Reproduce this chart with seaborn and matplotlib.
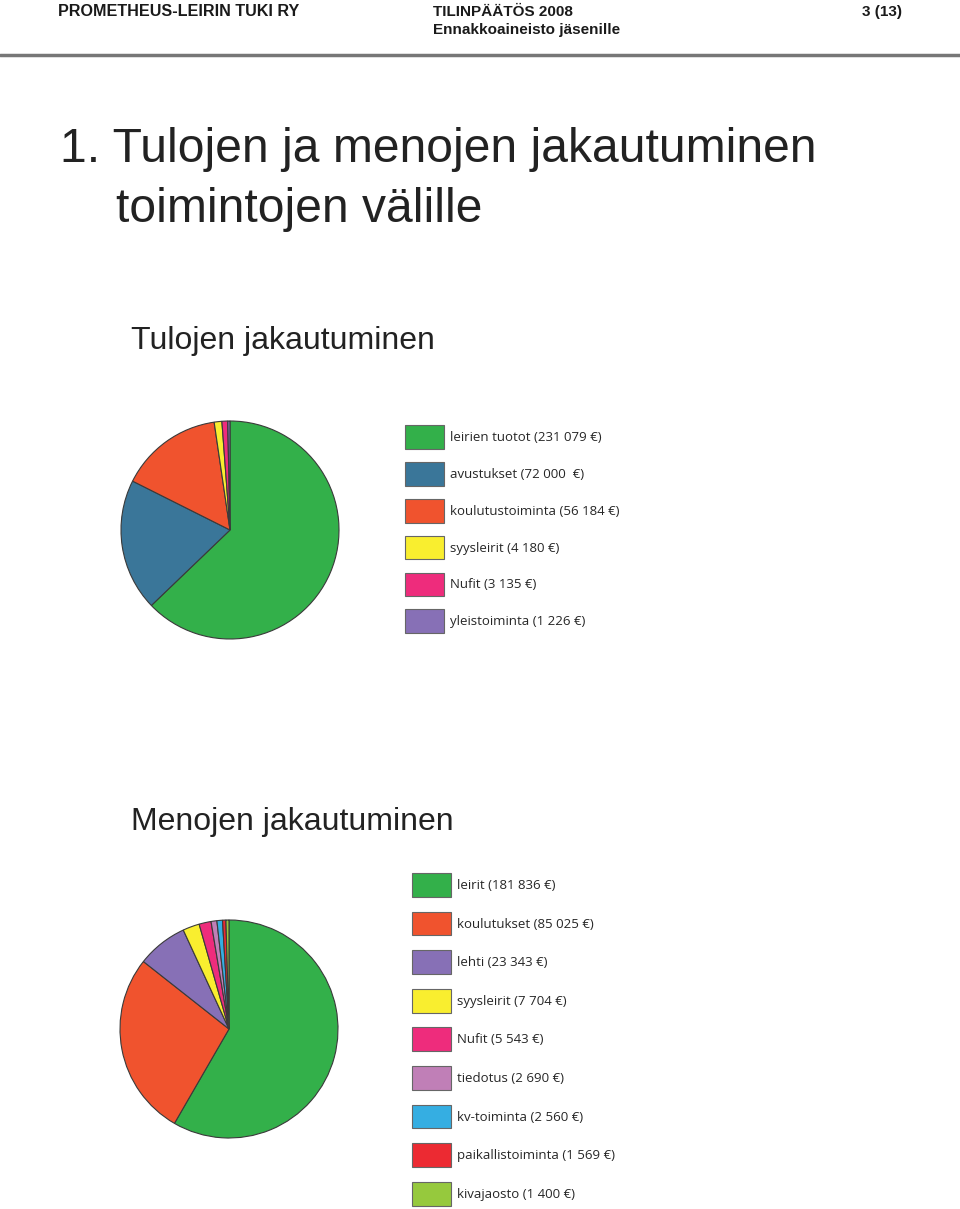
import matplotlib
matplotlib.use("Agg")
import matplotlib.pyplot as plt
import seaborn as sns
from matplotlib.patches import Patch

# income (Tulojen jakautuminen)
tulot_labels = ["leirien tuotot", "avustukset", "koulutustoiminta", "syysleirit", "Nufit", "yleistoiminta"]
tulot_values = [231079, 72000, 56184, 4180, 3135, 1226]
tulot_text = ["231 079 €", "72 000  €", "56 184 €", "4 180 €", "3 135 €", "1 226 €"]
tulot_colors = ["#33b04a", "#3a7699", "#f0532e", "#f9ee2f", "#ee2c7c", "#8770b6"]

# expenses (Menojen jakautuminen)
menot_labels = ["leirit", "koulutukset", "lehti", "syysleirit", "Nufit", "tiedotus",
                "kv-toiminta", "paikallistoiminta", "kivajaosto"]
menot_values = [181836, 85025, 23343, 7704, 5543, 2690, 2560, 1569, 1400]
menot_text = ["181 836 €", "85 025 €", "23 343 €", "7 704 €", "5 543 €", "2 690 €",
              "2 560 €", "1 569 €", "1 400 €"]
menot_colors = ["#33b04a", "#f0532e", "#8770b6", "#f9ee2f", "#ee2c7c", "#c07fb7",
                "#35aee2", "#ec2a32", "#96c93d"]

sns.set_theme(style="white")
plt.rcParams["font.family"] = ["Liberation Sans", "DejaVu Sans"]

W, H = 960, 1209
fig = plt.figure(figsize=(W / 100, H / 100), dpi=100)


def fx(x):
    return x / W


def fy(y):
    return 1 - y / H


def px_axes(left, top, w, h):
    return fig.add_axes([left / W, 1 - (top + h) / H, w / W, h / H])


# page header
hdr = dict(fontsize=11, fontweight="bold", color="#1a1a1a", va="center")
fig.text(fx(58), fy(12), "PROMETHEUS-LEIRIN TUKI RY", ha="left", **{**hdr, "fontsize": 11.6})
fig.text(fx(433), fy(12), "TILINPÄÄTÖS 2008", ha="left", **hdr)
fig.text(fx(433), fy(30), "Ennakkoaineisto jäsenille", ha="left", **hdr)
fig.text(fx(902), fy(12), "3 (13)", ha="right", **hdr)
fig.add_artist(plt.Line2D([0, 1], [fy(55), fy(55)], color="#777777", lw=2.5))

# titles
fig.text(fx(60), fy(150), "1. Tulojen ja menojen jakautuminen", fontsize=34.6, color="#222222", va="center")
fig.text(fx(116), fy(209), "toimintojen välille", fontsize=34.6, color="#222222", va="center")
fig.text(fx(131), fy(341), "Tulojen jakautuminen", fontsize=23, color="#222222", va="center")
fig.text(fx(131), fy(822), "Menojen jakautuminen", fontsize=23, color="#222222", va="center")


def draw_pie(cx, cy, r, values, colors):
    size = 2 * 1.25 * r
    ax = px_axes(cx - size / 2, cy - size / 2, size, size)
    ax.pie(values, colors=colors, startangle=90, counterclock=False,
           wedgeprops=dict(edgecolor="#3a3a3a", linewidth=0.8))
    ax.set_axis_off()
    return ax


draw_pie(230, 530, 109, tulot_values, tulot_colors)
draw_pie(229, 1029, 109, menot_values, menot_colors)


def draw_legend(x, y, labels, texts, colors, spacing):
    handles = [Patch(facecolor=c, edgecolor="#666666", linewidth=0.8) for c in colors]
    names = [f"{l} ({t})" for l, t in zip(labels, texts)]
    fig.legend(handles, names, loc="upper left", bbox_to_anchor=(fx(x), fy(y)),
               frameon=False, handlelength=2.95, handleheight=2.4,
               handletextpad=0.45, labelspacing=spacing, borderpad=0, borderaxespad=0,
               prop={"family": ["Open Sans", "DejaVu Sans"], "size": 9.5})


draw_legend(405, 425, tulot_labels, tulot_text, tulot_colors, 0.99)
draw_legend(412, 873, menot_labels, menot_text, menot_colors, 1.12)

fig.savefig("out.png", dpi=100, facecolor="white")
